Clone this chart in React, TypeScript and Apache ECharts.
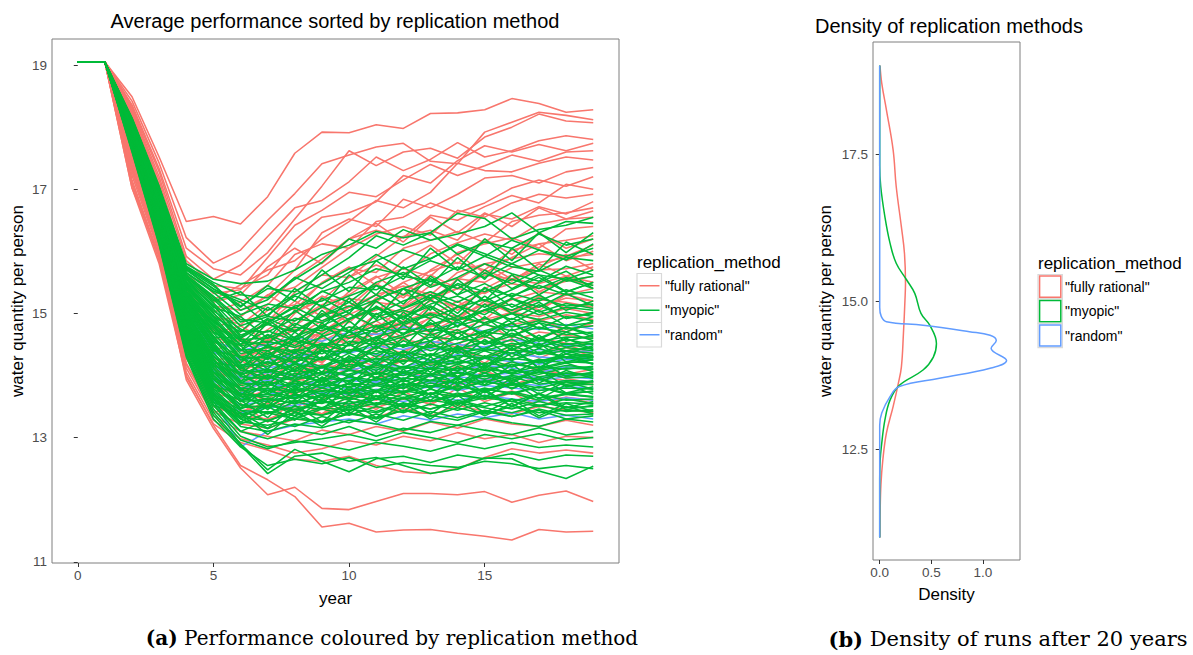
import React, { useEffect, useRef } from 'react';
import * as echarts from 'echarts';

const YEARS = [0, 1, 2, 3, 4, 5, 6, 7, 8, 9, 10, 11, 12, 13, 14, 15, 16, 17, 18, 19];
const METHODS = ['"fully rational"', '"myopic"', '"random"'];
const LEGEND_TITLE = 'replication_method';
const LEFT_TITLE = 'Average performance sorted by replication method';
const RIGHT_TITLE = 'Density of replication methods';
const Y_NAME = 'water quantity per person';
const LEFT_X_NAME = 'year';
const RIGHT_X_NAME = 'Density';
const CAPTION_A = ['(a)', 'Performance coloured by replication method'];
const CAPTION_B = ['(b)', 'Density of runs after 20 years'];

const LEFT_X_TICKS = [0, 5, 10, 15];
const LEFT_Y_TICKS = [11, 13, 15, 17, 19];
const RIGHT_X_TICKS = [0, 0.5, 1];
const RIGHT_Y_TICKS = [12.5, 15, 17.5];

const RATIONAL_RUNS: number[][] = [
  [19.05,19.05,18.49,17.52,16.48,16.56,16.44,16.88,17.58,17.92,17.91,18.04,17.98,18.22,18.23,18.28,18.46,18.38,18.24,18.28],
  [19.05,19.05,18.42,17.42,16.22,15.81,16.02,16.50,16.93,17.41,17.55,17.68,17.74,17.45,17.41,17.92,18.08,18.24,18.19,18.12],
  [19.05,19.05,18.36,17.33,16.05,15.72,15.62,15.98,16.52,17.05,17.62,17.38,17.60,17.66,17.50,17.84,18.00,18.21,18.10,18.07],
  [19.05,19.05,18.33,17.28,15.92,15.55,15.78,16.24,16.70,16.82,17.12,17.52,17.30,17.48,17.75,17.52,17.62,17.78,17.86,17.80],
  [19.05,19.05,18.30,17.20,15.85,15.45,15.40,15.62,16.18,16.55,16.62,16.80,17.22,17.10,17.46,17.70,17.60,17.72,17.62,17.74],
  [19.05,19.05,18.27,17.14,15.74,15.32,15.38,15.90,16.42,16.66,16.95,16.88,17.15,17.40,17.22,17.38,17.55,17.45,17.60,17.62],
  [19.05,19.05,18.24,17.08,15.66,15.22,15.46,15.70,15.85,16.20,16.48,16.82,16.70,16.95,17.42,17.30,17.28,17.42,17.52,17.47],
  [19.05,19.05,18.22,17.02,15.55,15.12,15.05,15.28,15.70,16.30,16.52,16.40,16.84,16.70,16.92,17.18,17.22,17.10,17.28,17.35],
  [19.05,19.05,18.18,16.96,15.48,15.02,15.18,15.45,15.95,16.12,16.05,16.48,16.55,16.78,16.62,16.78,17.02,17.15,17.05,17.20],
  [19.05,19.05,18.15,16.92,15.38,14.96,14.82,15.14,15.58,15.88,16.20,16.34,16.22,16.58,16.50,16.72,16.90,16.78,17.08,17.00],
  [19.05,19.05,18.10,16.86,15.32,14.88,14.95,15.30,15.42,15.74,16.05,16.28,16.40,16.26,16.66,16.55,16.78,16.92,16.86,16.92],
  [19.05,19.05,18.06,16.82,15.26,14.80,14.62,14.86,15.34,15.62,15.58,15.92,16.24,16.34,16.18,16.60,16.52,16.72,16.60,16.80],
  [19.05,19.05,18.02,16.76,15.20,14.72,14.70,15.05,15.14,15.48,15.72,15.66,16.05,16.18,16.32,16.14,16.48,16.58,16.62,16.70],
  [19.05,19.05,17.98,16.70,15.12,14.62,14.48,14.74,15.02,15.22,15.58,15.78,15.62,15.96,16.14,16.28,16.18,16.44,16.52,16.55],
  [19.05,19.05,17.92,16.66,15.06,14.52,14.56,14.50,14.88,15.14,15.30,15.58,15.72,15.60,15.98,16.12,16.22,16.05,16.36,16.40],
  [19.05,19.05,17.88,16.62,15.02,14.42,14.32,14.58,14.72,14.98,15.24,15.18,15.50,15.68,15.82,15.70,16.02,16.12,16.18,16.25],
  [19.05,19.05,17.84,16.58,14.96,14.35,14.40,14.32,14.62,14.88,15.10,15.30,15.44,15.30,15.66,15.80,15.88,15.96,15.92,16.10],
  [19.05,19.05,17.80,16.54,14.92,14.28,14.12,14.30,14.52,14.70,14.98,15.18,15.12,15.45,15.56,15.50,15.74,15.82,15.90,15.95],
  [19.05,19.05,17.76,16.50,14.86,14.20,14.22,14.48,14.40,14.72,14.90,15.05,15.30,15.22,15.40,15.62,15.55,15.70,15.72,15.80],
  [19.05,19.05,17.72,16.46,14.80,14.12,14.02,14.18,14.42,14.55,14.78,14.70,14.98,15.20,15.12,15.35,15.48,15.40,15.52,15.60],
  [19.05,19.05,17.68,16.42,14.76,14.05,13.95,14.20,14.12,14.40,14.62,14.82,14.75,14.92,15.10,15.02,15.22,15.35,15.30,15.40],
  [19.05,19.05,17.64,16.38,14.70,13.98,14.10,13.92,14.25,14.48,14.40,14.62,14.85,14.78,14.95,15.15,15.05,15.10,15.25,15.20],
  [19.05,19.05,17.60,16.34,14.65,13.92,13.85,14.05,14.30,14.22,14.50,14.68,14.60,14.80,14.72,14.90,15.02,14.95,15.08,15.00],
  [19.05,19.05,17.56,16.30,14.60,13.86,13.75,13.90,14.02,14.28,14.20,14.45,14.58,14.50,14.70,14.62,14.82,14.90,14.75,14.80],
  [19.05,19.05,17.50,16.25,14.55,13.80,13.70,13.62,13.90,14.05,14.28,14.15,14.40,14.55,14.45,14.62,14.55,14.70,14.65,14.60],
  [19.05,19.05,17.45,16.20,14.48,13.72,13.60,13.78,13.70,13.95,14.10,14.02,14.25,14.18,14.40,14.30,14.42,14.35,14.50,14.35],
  [19.05,19.05,17.40,16.15,14.42,13.65,13.52,13.48,13.72,13.80,13.68,13.95,14.05,13.98,14.15,14.08,14.22,14.10,14.02,14.10],
  [19.05,19.05,17.35,16.10,14.35,13.58,13.42,13.55,13.40,13.62,13.75,13.60,13.82,13.90,13.78,13.95,13.85,13.98,13.92,13.85],
  [19.05,19.05,17.30,16.05,14.28,13.50,13.35,13.30,13.45,13.38,13.55,13.48,13.62,13.55,13.70,13.62,13.75,13.58,13.65,13.60],
  [19.05,19.05,17.22,15.98,14.20,13.42,13.22,13.15,13.30,13.25,13.40,13.32,13.48,13.35,13.52,13.42,13.38,13.50,13.45,13.40],
  [19.05,19.05,17.15,15.92,14.12,13.35,13.10,13.02,12.95,13.12,13.05,13.18,13.10,13.25,13.15,13.30,13.22,13.18,13.28,13.20],
  [19.05,19.05,17.08,15.85,14.05,13.28,12.98,12.88,12.75,12.82,12.95,12.88,13.02,12.95,13.08,12.98,13.05,12.92,13.02,13.00],
  [19.05,19.05,17.02,15.80,13.98,13.22,12.92,12.80,12.65,12.62,12.70,12.55,12.45,12.42,12.50,12.68,12.82,12.75,12.80,12.75],
  [19.05,19.05,17.02,15.95,13.93,13.15,12.51,12.08,12.20,11.86,11.84,11.97,12.10,12.10,12.08,12.13,11.96,12.07,12.14,11.97],
  [19.05,19.05,17.10,15.90,14.00,13.20,12.55,12.32,12.05,11.56,11.62,11.48,11.51,11.52,11.46,11.41,11.35,11.52,11.48,11.49],
  [19.05,19.05,17.70,16.48,14.90,14.25,14.30,14.55,14.75,14.62,14.90,15.10,15.02,15.25,15.40,15.32,15.55,15.48,15.60,15.50],
  [19.05,19.05,17.62,16.40,14.72,14.10,13.95,14.12,14.38,14.60,14.52,14.70,14.88,15.02,14.95,15.15,15.05,15.22,15.18,15.10],
  [19.05,19.05,17.58,16.32,14.62,13.95,14.05,14.28,14.20,14.45,14.62,14.55,14.78,14.70,14.92,14.85,15.02,14.88,14.98,14.90],
  [19.05,19.05,17.52,16.28,14.50,13.82,13.68,13.85,14.02,14.18,14.10,14.32,14.25,14.45,14.38,14.55,14.48,14.60,14.52,14.50],
  [19.05,19.05,18.00,16.80,15.25,14.75,14.95,15.30,15.05,15.50,15.75,15.45,15.85,16.10,15.80,16.20,15.95,16.30,16.05,16.20],
  [19.05,19.05,17.90,16.68,15.10,14.55,14.40,14.85,15.20,14.95,15.35,15.60,15.30,15.70,15.95,15.65,15.90,16.12,15.85,16.00],
  [19.05,19.05,17.82,16.60,14.98,14.38,14.62,14.35,14.80,15.10,14.85,15.25,15.50,15.20,15.55,15.80,15.55,15.75,15.95,15.70],
  [19.05,19.05,17.75,16.52,14.85,14.18,14.05,14.45,14.30,14.70,15.00,14.75,15.10,15.35,15.05,15.40,15.62,15.35,15.55,15.45],
  [19.05,19.05,17.66,16.44,14.72,14.02,14.25,13.98,14.40,14.20,14.60,14.88,14.60,14.95,15.20,14.90,15.25,15.05,15.30,15.20],
  [19.05,19.05,17.58,16.35,14.58,13.85,13.70,14.10,13.92,14.30,14.15,14.50,14.35,14.70,14.48,14.85,14.60,14.92,14.70,14.85],
  [19.05,19.05,17.48,16.22,14.42,13.68,13.85,13.55,13.98,13.80,14.15,13.95,14.30,14.10,14.42,14.20,14.50,14.28,14.45,14.30],
  [19.05,19.05,17.38,16.12,14.30,13.52,13.35,13.62,13.45,13.80,13.60,13.90,13.72,14.02,13.82,14.08,13.90,14.15,13.95,13.88],
  [19.05,19.05,17.28,16.02,14.18,13.40,13.55,13.25,13.60,13.38,13.68,13.45,13.75,13.52,13.80,13.58,13.72,13.50,13.65,13.55],
  [19.05,19.05,18.20,17.05,15.58,15.18,15.30,15.75,16.05,15.80,16.20,16.45,16.15,16.55,16.30,16.62,16.40,16.70,16.52,16.65],
  [19.05,19.05,17.95,16.75,15.18,14.68,14.80,14.55,15.00,15.28,15.10,15.48,15.25,15.62,15.40,15.70,15.52,15.80,15.60,15.75],
  [19.05,19.05,17.70,16.50,14.80,14.12,14.30,14.62,14.45,14.82,14.62,15.00,14.78,15.12,14.90,15.20,15.00,15.28,15.08,15.15],
];

const MYOPIC_RUNS: number[][] = [
  [19.05,19.05,18.15,17.05,15.80,15.55,15.48,15.52,15.70,15.95,16.10,16.32,16.22,16.30,16.61,16.53,16.20,16.35,16.42,16.55],
  [19.05,19.05,18.13,17.02,15.76,15.50,15.30,15.25,15.55,15.82,16.20,16.05,16.35,16.18,16.28,16.40,16.62,16.30,16.48,16.45],
  [19.05,19.05,18.12,17.00,15.72,15.44,15.12,15.40,15.35,15.62,15.90,16.25,16.10,16.30,15.95,16.15,16.05,16.28,16.10,16.20],
  [19.05,19.05,18.11,16.97,15.70,15.39,15.22,15.05,15.30,15.48,15.72,15.85,16.02,15.88,16.12,15.96,15.80,16.02,15.92,16.05],
  [19.05,19.05,18.09,16.96,15.65,15.34,14.98,15.15,15.08,15.35,15.50,15.72,15.62,15.85,15.70,15.92,15.75,15.68,15.90,15.85],
  [19.05,19.05,18.08,16.93,15.62,15.28,14.90,14.85,15.12,15.20,15.42,15.38,15.60,15.52,15.75,15.58,15.80,15.62,15.55,15.70],
  [19.05,19.05,18.07,16.91,15.58,15.23,14.80,14.95,14.88,15.10,15.28,15.45,15.30,15.52,15.40,15.65,15.48,15.70,15.52,15.60],
  [19.05,19.05,18.05,16.90,15.56,15.17,14.72,14.70,14.92,14.85,15.05,15.22,15.40,15.25,15.48,15.35,15.55,15.40,15.58,15.45],
  [19.05,19.05,18.05,16.86,15.50,15.12,14.65,14.82,14.70,14.95,15.12,14.98,15.20,15.35,15.18,15.40,15.28,15.45,15.30,15.35],
  [19.05,19.05,18.04,16.85,15.49,15.07,14.58,14.60,14.78,14.72,14.90,15.08,14.95,15.15,15.28,15.10,15.32,15.20,15.38,15.25],
  [19.05,19.05,18.02,16.83,15.44,15.01,14.55,14.48,14.62,14.80,14.70,14.88,15.05,14.92,15.10,15.22,15.05,15.25,15.12,15.15],
  [19.05,19.05,18.00,16.80,15.42,14.96,14.48,14.55,14.45,14.62,14.78,14.70,14.85,15.00,14.88,15.05,15.15,14.98,15.10,15.05],
  [19.05,19.05,18.01,16.77,15.36,14.91,14.42,14.40,14.55,14.48,14.65,14.80,14.68,14.82,14.95,14.85,15.00,14.90,15.02,14.95],
  [19.05,19.05,17.98,16.76,15.35,14.85,14.35,14.45,14.38,14.52,14.48,14.62,14.75,14.65,14.80,14.92,14.78,14.88,14.80,14.85],
  [19.05,19.05,17.97,16.74,15.30,14.80,14.30,14.28,14.42,14.35,14.55,14.50,14.62,14.75,14.68,14.82,14.72,14.85,14.75,14.80],
  [19.05,19.05,17.96,16.70,15.27,14.75,14.25,14.32,14.22,14.40,14.38,14.52,14.48,14.62,14.58,14.70,14.65,14.78,14.66,14.70],
  [19.05,19.05,17.94,16.69,15.22,14.69,14.18,14.15,14.30,14.25,14.42,14.35,14.50,14.45,14.60,14.52,14.68,14.55,14.62,14.60],
  [19.05,19.05,17.93,16.67,15.20,14.64,14.12,14.22,14.10,14.28,14.22,14.40,14.32,14.48,14.42,14.55,14.48,14.60,14.50,14.55],
  [19.05,19.05,17.91,16.64,15.15,14.59,14.08,14.05,14.18,14.12,14.30,14.25,14.38,14.32,14.46,14.40,14.52,14.45,14.58,14.50],
  [19.05,19.05,17.90,16.62,15.13,14.53,14.02,14.10,14.00,14.15,14.10,14.28,14.22,14.35,14.28,14.42,14.36,14.50,14.40,14.45],
  [19.05,19.05,17.89,16.61,15.08,14.48,13.98,13.95,14.08,14.02,14.18,14.12,14.25,14.20,14.32,14.28,14.42,14.35,14.45,14.40],
  [19.05,19.05,17.87,16.57,15.05,14.43,13.92,14.00,13.92,14.06,14.02,14.16,14.10,14.22,14.18,14.30,14.25,14.38,14.30,14.35],
  [19.05,19.05,17.86,16.56,15.01,14.37,13.88,13.85,13.98,13.92,14.08,14.02,14.15,14.10,14.22,14.18,14.28,14.22,14.35,14.30],
  [19.05,19.05,17.85,16.52,14.98,14.32,13.84,13.90,13.82,13.96,13.92,14.05,14.00,14.12,14.08,14.20,14.14,14.26,14.20,14.25],
  [19.05,19.05,17.83,16.51,14.95,14.27,13.80,13.76,13.88,13.84,13.98,13.92,14.06,14.02,14.12,14.08,14.18,14.12,14.22,14.20],
  [19.05,19.05,17.82,16.49,14.90,14.21,13.75,13.80,13.72,13.85,13.82,13.95,13.90,14.02,13.98,14.10,14.05,14.15,14.10,14.15],
  [19.05,19.05,17.81,16.46,14.88,14.16,13.70,13.66,13.78,13.74,13.88,13.84,13.96,13.92,14.04,13.98,14.08,14.02,14.12,14.10],
  [19.05,19.05,17.79,16.45,14.83,14.11,13.66,13.70,13.62,13.76,13.72,13.86,13.80,13.92,13.88,14.00,13.95,14.06,14.00,14.05],
  [19.05,19.05,17.79,16.41,14.81,14.05,13.62,13.58,13.68,13.65,13.78,13.74,13.86,13.82,13.94,13.90,14.00,13.94,14.04,14.00],
  [19.05,19.05,17.77,16.40,14.76,14.00,13.58,13.62,13.55,13.68,13.64,13.76,13.72,13.84,13.78,13.90,13.84,13.94,13.86,13.90],
  [19.05,19.05,17.76,16.37,14.74,13.94,13.52,13.48,13.60,13.55,13.68,13.62,13.75,13.70,13.82,13.76,13.88,13.80,13.90,13.85],
  [19.05,19.05,17.74,16.36,14.70,13.89,13.48,13.52,13.45,13.58,13.54,13.66,13.62,13.72,13.66,13.78,13.72,13.82,13.70,13.75],
  [19.05,19.05,17.73,16.32,14.67,13.84,13.44,13.40,13.50,13.46,13.58,13.52,13.64,13.58,13.68,13.62,13.72,13.60,13.70,13.65],
  [19.05,19.05,17.72,16.31,14.62,13.79,13.38,13.42,13.35,13.48,13.44,13.56,13.50,13.60,13.54,13.64,13.58,13.50,13.62,13.55],
  [19.05,19.05,17.70,16.28,14.60,13.73,13.32,13.28,13.40,13.36,13.46,13.40,13.52,13.46,13.56,13.48,13.40,13.52,13.42,13.45],
  [19.05,19.05,17.69,16.27,14.55,13.68,13.25,13.20,13.30,13.26,13.38,13.32,13.44,13.36,13.28,13.42,13.34,13.44,13.30,13.35],
  [19.05,19.05,17.68,16.24,14.53,13.62,13.18,13.10,13.22,13.16,13.28,13.22,13.12,13.26,13.20,13.32,13.24,13.18,13.30,13.25],
  [19.05,19.05,17.66,16.22,14.48,13.57,13.10,12.98,13.12,13.05,13.18,13.02,13.15,13.08,13.20,13.12,13.05,13.16,13.04,13.10],
  [19.05,19.05,17.66,16.19,14.45,13.52,13.02,12.85,12.92,12.98,13.05,12.95,13.08,13.00,12.92,13.05,12.98,13.06,12.96,13.00],
  [19.05,19.05,17.64,16.17,14.41,13.46,12.96,12.82,12.95,12.88,12.80,12.92,12.86,12.78,12.90,12.82,12.92,12.84,12.88,12.85],
  [19.05,19.05,17.63,16.15,14.37,13.41,12.90,12.48,12.81,12.62,12.45,12.66,12.70,12.60,12.72,12.66,12.74,12.64,12.72,12.70],
  [19.05,19.05,17.62,16.12,14.34,13.36,12.88,12.42,12.70,12.75,12.62,12.68,12.55,12.42,12.49,12.67,12.66,12.46,12.34,12.54],
  [19.05,19.05,17.60,16.10,14.30,13.30,12.85,12.55,12.65,12.58,12.68,12.52,12.60,12.55,12.52,12.62,12.58,12.50,12.55,12.50],
  [19.05,19.05,18.10,16.98,15.60,15.20,15.35,14.95,15.40,15.10,15.62,15.30,15.75,15.45,15.90,15.55,16.05,15.70,16.15,15.95],
  [19.05,19.05,18.06,16.90,15.48,14.95,14.70,15.10,14.80,15.25,15.00,15.45,15.15,15.60,15.30,15.70,15.40,15.62,15.35,15.50],
  [19.05,19.05,18.03,16.84,15.40,14.80,14.40,14.85,14.55,15.05,14.70,15.20,14.90,15.30,15.00,15.42,15.10,15.30,15.05,15.20],
  [19.05,19.05,18.00,16.78,15.30,14.62,14.60,14.25,14.70,14.40,14.88,14.55,15.02,14.70,15.12,14.82,15.00,14.75,14.95,14.88],
  [19.05,19.05,17.97,16.72,15.22,14.50,14.10,14.50,14.20,14.65,14.35,14.80,14.45,14.90,14.60,14.95,14.62,14.85,14.55,14.65],
  [19.05,19.05,17.95,16.68,15.15,14.40,14.30,13.95,14.38,14.05,14.52,14.20,14.62,14.30,14.70,14.40,14.75,14.45,14.60,14.42],
  [19.05,19.05,17.92,16.62,15.05,14.25,13.90,14.30,13.98,14.40,14.10,14.48,14.18,14.55,14.25,14.58,14.30,14.52,14.22,14.30],
  [19.05,19.05,17.90,16.58,14.98,14.15,14.05,13.72,14.15,13.85,14.28,13.95,14.35,14.05,14.42,14.10,14.45,14.12,14.35,14.18],
  [19.05,19.05,17.88,16.54,14.92,14.05,13.68,14.02,13.75,14.15,13.85,14.22,13.92,14.30,13.98,14.32,14.02,14.25,13.98,14.05],
  [19.05,19.05,17.85,16.50,14.85,13.95,13.80,13.50,13.92,13.62,14.02,13.72,14.10,13.80,14.15,13.85,14.18,13.88,14.08,13.95],
  [19.05,19.05,17.83,16.46,14.78,13.86,13.48,13.80,13.55,13.90,13.62,13.98,13.70,14.02,13.75,14.05,13.78,13.98,13.72,13.82],
  [19.05,19.05,17.80,16.42,14.72,13.78,13.60,13.32,13.72,13.45,13.82,13.52,13.88,13.60,13.92,13.65,13.90,13.62,13.85,13.70],
  [19.05,19.05,17.78,16.38,14.65,13.70,13.30,13.58,13.35,13.70,13.42,13.75,13.48,13.80,13.52,13.78,13.50,13.72,13.48,13.58],
  [19.05,19.05,17.75,16.34,14.58,13.62,13.40,13.15,13.52,13.25,13.60,13.32,13.65,13.38,13.68,13.40,13.62,13.35,13.55,13.42],
  [19.05,19.05,18.12,17.00,15.70,15.40,15.10,15.45,15.20,15.70,15.35,15.85,15.55,16.05,15.70,16.20,15.85,16.30,15.98,16.30],
  [19.05,19.05,18.08,16.95,15.55,15.10,14.95,14.60,15.05,14.75,15.25,14.90,15.40,15.05,15.55,15.20,15.62,15.30,15.55,15.40],
  [19.05,19.05,18.04,16.88,15.45,14.88,14.50,14.90,14.60,15.00,14.72,15.12,14.85,15.22,14.95,15.28,15.00,15.18,14.92,15.00],
  [19.05,19.05,17.99,16.80,15.35,14.70,14.48,14.10,14.58,14.25,14.72,14.42,14.82,14.55,14.90,14.62,14.85,14.58,14.78,14.62],
  [19.05,19.05,17.94,16.70,15.20,14.45,14.02,14.40,14.08,14.50,14.20,14.60,14.30,14.68,14.38,14.72,14.40,14.65,14.35,14.48],
  [19.05,19.05,17.89,16.60,15.00,14.20,14.15,13.85,14.22,13.92,14.32,14.02,14.40,14.10,14.48,14.15,14.45,14.12,14.40,14.28],
  [19.05,19.05,17.84,16.52,14.88,14.00,13.58,13.90,13.62,13.98,13.70,14.05,13.78,14.12,13.85,14.15,13.88,14.10,13.82,13.92],
  [19.05,19.05,17.79,16.44,14.75,13.82,13.72,13.45,13.80,13.55,13.88,13.62,13.95,13.68,13.98,13.72,13.95,13.70,13.90,13.78],
  [19.05,19.05,17.74,16.36,14.60,13.65,13.25,13.50,13.28,13.62,13.38,13.68,13.42,13.72,13.48,13.75,13.50,13.70,13.45,13.52],
  [19.05,19.05,17.70,16.28,14.50,13.52,13.38,13.05,13.42,13.18,13.50,13.25,13.55,13.30,13.58,13.35,13.55,13.32,13.50,13.38],
  [19.05,19.05,17.96,16.75,15.28,14.58,14.20,14.65,14.35,14.85,14.50,15.00,14.65,15.10,14.78,15.15,14.85,15.05,14.80,14.95],
  [19.05,19.05,18.14,17.03,15.74,15.47,15.05,15.22,15.58,15.40,15.66,15.95,15.72,15.88,16.10,15.92,16.18,16.02,15.86,16.12],
  [19.05,19.05,18.11,16.99,15.66,15.36,15.18,14.82,15.02,15.36,15.18,15.50,15.66,15.42,15.58,15.80,15.64,15.52,15.76,15.62],
  [19.05,19.05,18.09,16.95,15.60,15.26,14.86,14.98,15.28,15.12,14.90,15.22,15.40,15.56,15.30,15.48,15.26,15.50,15.68,15.40],
  [19.05,19.05,18.06,16.89,15.52,15.14,14.62,14.92,14.72,14.96,15.18,14.94,15.08,15.30,15.12,14.98,15.24,15.10,15.32,15.12],
  [19.05,19.05,18.03,16.86,15.46,15.04,14.75,14.52,14.84,14.66,14.92,15.10,14.82,14.98,14.80,15.06,14.90,15.14,14.92,15.02],
  [19.05,19.05,18.01,16.82,15.40,14.94,14.40,14.66,14.48,14.78,14.60,14.74,14.95,14.70,14.86,14.66,14.92,14.76,14.70,14.88],
  [19.05,19.05,17.99,16.79,15.34,14.86,14.56,14.32,14.60,14.44,14.70,14.52,14.66,14.85,14.58,14.72,14.84,14.60,14.78,14.66],
  [19.05,19.05,17.97,16.75,15.28,14.78,14.28,14.48,14.30,14.52,14.38,14.62,14.46,14.56,14.74,14.50,14.64,14.48,14.70,14.56],
  [19.05,19.05,17.95,16.72,15.24,14.70,14.42,14.18,14.40,14.26,14.50,14.30,14.56,14.40,14.52,14.64,14.42,14.58,14.46,14.52],
  [19.05,19.05,17.93,16.69,15.18,14.62,14.15,14.36,14.20,14.42,14.24,14.46,14.32,14.50,14.36,14.44,14.58,14.36,14.52,14.42],
  [19.05,19.05,17.92,16.66,15.14,14.55,14.30,14.06,14.28,14.14,14.36,14.18,14.40,14.24,14.44,14.30,14.48,14.34,14.40,14.36],
  [19.05,19.05,17.90,16.63,15.10,14.48,14.00,14.22,14.06,14.30,14.14,14.28,14.12,14.34,14.20,14.40,14.24,14.44,14.28,14.32],
  [19.05,19.05,17.88,16.60,15.05,14.42,14.12,13.94,14.18,14.02,14.24,14.08,14.30,14.16,14.26,14.12,14.36,14.20,14.30,14.26],
  [19.05,19.05,17.87,16.58,15.02,14.36,13.88,14.08,13.94,14.14,13.98,14.20,14.04,14.22,14.08,14.28,14.14,14.24,14.30,14.18],
  [19.05,19.05,17.85,16.55,14.98,14.30,14.00,13.82,14.04,13.90,14.10,13.96,14.14,14.02,14.18,14.04,14.22,14.08,14.16,14.12],
  [19.05,19.05,17.84,16.53,14.94,14.25,13.78,13.98,13.84,14.02,13.90,14.06,13.94,14.12,13.98,14.16,14.02,14.10,14.20,14.06],
  [19.05,19.05,17.82,16.50,14.90,14.18,13.90,13.70,13.92,13.80,13.98,13.86,14.04,13.92,14.06,13.94,14.10,13.98,14.04,14.02],
  [19.05,19.05,17.81,16.48,14.86,14.12,13.68,13.86,13.74,13.92,13.80,13.96,13.84,14.00,13.88,14.04,13.92,14.06,13.96,13.98],
  [19.05,19.05,17.79,16.45,14.82,14.06,13.78,13.60,13.82,13.70,13.88,13.76,13.92,13.80,13.96,13.84,13.98,13.86,13.92,13.90],
  [19.05,19.05,17.78,16.43,14.78,14.00,13.58,13.76,13.64,13.80,13.70,13.84,13.74,13.88,13.78,13.92,13.80,13.94,13.84,13.86],
  [19.05,19.05,17.76,16.40,14.74,13.94,13.66,13.50,13.70,13.60,13.76,13.66,13.82,13.70,13.84,13.74,13.86,13.76,13.80,13.78],
  [19.05,19.05,17.75,16.38,14.70,13.88,13.46,13.64,13.54,13.70,13.60,13.74,13.64,13.78,13.68,13.80,13.70,13.82,13.72,13.74],
  [19.05,19.05,17.73,16.35,14.66,13.82,13.54,13.38,13.58,13.48,13.64,13.54,13.70,13.58,13.72,13.62,13.74,13.64,13.70,13.66],
  [19.05,19.05,17.72,16.32,14.62,13.76,13.34,13.52,13.42,13.58,13.48,13.62,13.52,13.66,13.56,13.68,13.58,13.70,13.60,13.62],
  [19.05,19.05,17.70,16.30,14.58,13.70,13.44,13.26,13.46,13.36,13.52,13.42,13.56,13.46,13.60,13.50,13.62,13.52,13.56,13.54],
  [19.05,19.05,17.69,16.27,14.54,13.64,13.22,13.40,13.30,13.46,13.36,13.50,13.40,13.54,13.44,13.56,13.46,13.58,13.48,13.50],
  [19.05,19.05,17.67,16.24,14.50,13.58,13.30,13.14,13.34,13.24,13.40,13.30,13.44,13.34,13.48,13.38,13.50,13.40,13.44,13.42],
  [19.05,19.05,17.66,16.21,14.46,13.52,13.10,13.28,13.18,13.34,13.24,13.38,13.28,13.42,13.32,13.44,13.34,13.46,13.36,13.38],
  [19.05,19.05,18.02,16.84,15.45,15.00,14.60,14.85,15.10,14.88,15.05,15.30,15.08,15.24,15.46,15.20,15.38,15.58,15.34,15.50],
  [19.05,19.05,17.98,16.78,15.32,14.82,14.50,14.72,14.56,14.80,15.00,14.78,14.94,15.12,14.90,15.06,15.24,15.02,15.16,15.08],
];

const RANDOM_RUNS: number[][] = [
  [19.05,19.05,17.95,16.80,15.20,14.55,14.40,14.50,14.62,14.55,14.70,14.66,14.78,14.72,14.85,14.70,14.80,14.74,14.82,14.75],
  [19.05,19.05,17.92,16.75,15.10,14.45,14.25,14.32,14.28,14.40,14.36,14.48,14.42,14.55,14.50,14.46,14.58,14.52,14.48,14.50],
  [19.05,19.05,17.90,16.72,15.05,14.38,14.15,14.22,14.35,14.28,14.42,14.34,14.30,14.44,14.38,14.45,14.36,14.42,14.38,14.40],
  [19.05,19.05,17.88,16.70,15.00,14.30,14.05,14.12,14.20,14.15,14.26,14.22,14.32,14.25,14.34,14.28,14.36,14.30,14.26,14.30],
  [19.05,19.05,17.86,16.66,14.95,14.22,13.96,14.05,14.00,14.12,14.08,14.18,14.14,14.24,14.20,14.28,14.22,14.18,14.26,14.25],
  [19.05,19.05,17.84,16.62,14.90,14.15,13.88,13.92,13.98,14.04,14.00,14.10,14.06,14.14,14.08,14.16,14.12,14.05,14.14,14.10],
  [19.05,19.05,17.82,16.58,14.85,14.08,13.80,13.86,13.82,13.92,13.96,13.90,14.02,13.98,14.06,14.00,14.04,13.96,14.02,14.00],
  [19.05,19.05,17.80,16.55,14.80,14.00,13.72,13.78,13.86,13.84,13.92,13.88,13.96,13.90,13.98,13.94,14.00,13.92,13.98,13.95],
  [19.05,19.05,17.78,16.52,14.75,13.92,13.62,13.70,13.76,13.82,13.78,13.86,13.82,13.90,13.86,13.92,13.88,13.84,13.92,13.90],
  [19.05,19.05,17.76,16.48,14.70,13.85,13.52,13.60,13.66,13.72,13.70,13.78,13.74,13.82,13.76,13.84,13.80,13.76,13.82,13.80],
  [19.05,19.05,17.74,16.44,14.65,13.75,13.40,13.48,13.52,13.58,13.54,13.62,13.58,13.66,13.60,13.68,13.62,13.58,13.64,13.60],
  [19.05,19.05,17.70,16.40,14.58,13.62,12.85,13.10,13.20,13.25,13.30,13.22,13.35,13.28,13.38,13.32,13.40,13.30,13.36,13.30],
];

// [density, water quantity] pairs of the final-year distribution
const RATIONAL_DENSITY: number[][] = [
  [0.003, 11.0], [0.005, 11.5], [0.012, 11.9], [0.03, 12.31], [0.065, 12.77], [0.13, 13.22], [0.18, 13.61],
  [0.21, 13.89], [0.23, 14.46], [0.245, 15.03], [0.25, 15.31], [0.24, 15.82], [0.21, 16.27], [0.16, 16.95],
  [0.13, 17.57], [0.065, 18.25], [0.02, 18.7], [0.003, 19.0],
];
const MYOPIC_DENSITY: number[][] = [
  [0, 11.0], [0, 12.0], [0.004, 12.3], [0.016, 12.54], [0.05, 12.99], [0.1, 13.33], [0.19, 13.58], [0.42, 13.84],
  [0.52, 14.06], [0.55, 14.29], [0.485, 14.6], [0.4, 14.8], [0.34, 15.14], [0.26, 15.37], [0.16, 15.65],
  [0.1, 15.99], [0.05, 16.44], [0.01, 16.95], [0, 17.3], [0, 19.0],
];
const RANDOM_DENSITY: number[][] = [
  [0, 11.0], [0, 12.9], [0.02, 13.11], [0.1, 13.39], [0.19, 13.56], [0.58, 13.7], [1.07, 13.87], [1.23, 14.0],
  [1.08, 14.21], [1.13, 14.34], [1.07, 14.43], [0.87, 14.49], [0.42, 14.6], [0.065, 14.66], [0.015, 14.75],
  [0, 14.9], [0, 19.0],
];

const COLORS = ['#F8766D', '#00BA38', '#619CFF'];
const FONT = '"Liberation Sans", Arial, Helvetica, sans-serif';
const SERIF = '"DejaVu Serif", "Liberation Serif", serif';

function buildOption() {
  const series: any[] = [];
  const groups: [number[][], number][] = [[RATIONAL_RUNS, 0], [RANDOM_RUNS, 2], [MYOPIC_RUNS, 1]];
  groups.forEach(([runs, k]) => {
    runs.forEach((run) => {
      series.push({
        type: 'line',
        xAxisIndex: 0,
        yAxisIndex: 0,
        data: run.map((v, i) => [YEARS[i], v]),
        symbol: 'none',
        showSymbol: false,
        silent: true,
        lineStyle: { color: COLORS[k], width: 1.55 },
        itemStyle: { color: COLORS[k] },
      });
    });
  });
  const dens: [number[][], number][] = [[RATIONAL_DENSITY, 0], [MYOPIC_DENSITY, 1], [RANDOM_DENSITY, 2]];
  dens.forEach(([d, k]) => {
    series.push({
      type: 'line',
      xAxisIndex: 1,
      yAxisIndex: 1,
      data: d,
      symbol: 'none',
      showSymbol: false,
      silent: true,
      smooth: 0.4,
      lineStyle: { color: COLORS[k], width: 1.5 },
      itemStyle: { color: COLORS[k] },
    });
  });

  const tickStyle = { color: '#333', width: 1 };
  const labelStyle = { color: '#4d4d4d', fontSize: 13.5, fontFamily: FONT };
  const nameStyle = { color: '#000', fontSize: 17, fontFamily: FONT };

  const graphics: any[] = [
    { type: 'text', x: 335, y: 21, style: { text: LEFT_TITLE, fontSize: 20, fontFamily: FONT, fill: '#000', align: 'center', verticalAlign: 'middle' } },
    { type: 'text', x: 815, y: 26, style: { text: RIGHT_TITLE, fontSize: 20, fontFamily: FONT, fill: '#000', align: 'left', verticalAlign: 'middle' } },
    {
      type: 'text', x: 392, y: 638,
      style: {
        text: `{b|${CAPTION_A[0]}} ${CAPTION_A[1]}`, fontSize: 20, fontFamily: SERIF, fill: '#000',
        align: 'center', verticalAlign: 'middle', rich: { b: { fontWeight: 'bold', fontSize: 20, fontFamily: SERIF } },
      },
    },
    {
      type: 'text', x: 1008, y: 639,
      style: {
        text: `{b|${CAPTION_B[0]}} ${CAPTION_B[1]}`, fontSize: 21, fontFamily: SERIF, fill: '#000',
        align: 'center', verticalAlign: 'middle', rich: { b: { fontWeight: 'bold', fontSize: 21, fontFamily: SERIF } },
      },
    },
    { type: 'text', x: 637, y: 262, style: { text: LEGEND_TITLE, fontSize: 17, fontFamily: FONT, fill: '#000', verticalAlign: 'middle' } },
    { type: 'text', x: 1038, y: 263, style: { text: LEGEND_TITLE, fontSize: 17, fontFamily: FONT, fill: '#000', verticalAlign: 'middle' } },
  ];
  METHODS.forEach((m, i) => {
    const top = 273.5 + 24.5 * i;
    const cy = top + 12.25;
    graphics.push(
      { type: 'rect', shape: { x: 637, y: top, width: 24.5, height: 24.5 }, style: { fill: '#fff', stroke: '#d9d9d9', lineWidth: 1.2 } },
      { type: 'line', shape: { x1: 639.5, y1: cy, x2: 659.5, y2: cy }, style: { stroke: COLORS[i], lineWidth: 1.5 } },
      { type: 'text', x: 665, y: cy, style: { text: m, fontSize: 14, fontFamily: FONT, fill: '#000', verticalAlign: 'middle' } },
    );
    const top2 = 274.5 + 24.4 * i;
    const cy2 = top2 + 12.2;
    graphics.push(
      { type: 'rect', shape: { x: 1038, y: top2, width: 24.4, height: 24.4 }, style: { fill: '#fff', stroke: '#d9d9d9', lineWidth: 1.2 } },
      { type: 'rect', shape: { x: 1039.6, y: top2 + 1.6, width: 21.2, height: 21.2 }, style: { fill: 'none', stroke: COLORS[i], lineWidth: 1.5 } },
      { type: 'text', x: 1065, y: cy2, style: { text: m, fontSize: 14, fontFamily: FONT, fill: '#000', verticalAlign: 'middle' } },
    );
  });

  return {
    animation: false,
    backgroundColor: '#fff',
    textStyle: { fontFamily: FONT },
    grid: [
      { left: 52, top: 39, width: 567, height: 524, show: true, borderColor: '#7f7f7f', borderWidth: 1, backgroundColor: 'transparent' },
      { left: 873, top: 42, width: 147, height: 518, show: true, borderColor: '#7f7f7f', borderWidth: 1, backgroundColor: 'transparent' },
    ],
    xAxis: [
      {
        type: 'value', gridIndex: 0, min: -0.95, max: 19.95,
        name: LEFT_X_NAME, nameLocation: 'middle', nameGap: 27, nameTextStyle: nameStyle,
        axisLine: { show: false }, splitLine: { show: false },
        axisTick: { show: true, length: 4, lineStyle: tickStyle, customValues: LEFT_X_TICKS },
        axisLabel: { ...labelStyle, margin: 5, customValues: LEFT_X_TICKS, formatter: (v: number) => String(v) },
      },
      {
        type: 'value', gridIndex: 1, min: -0.065, max: 1.36,
        name: RIGHT_X_NAME, nameLocation: 'middle', nameGap: 26, nameTextStyle: nameStyle,
        axisLine: { show: false }, splitLine: { show: false },
        axisTick: { show: true, length: 4, lineStyle: tickStyle, customValues: RIGHT_X_TICKS },
        axisLabel: { ...labelStyle, margin: 5, customValues: RIGHT_X_TICKS, formatter: (v: number) => v.toFixed(1) },
      },
    ],
    yAxis: [
      {
        type: 'value', gridIndex: 0, min: 10.98, max: 19.42,
        name: Y_NAME, nameLocation: 'middle', nameGap: 26, nameTextStyle: nameStyle,
        axisLine: { show: false }, splitLine: { show: false },
        axisTick: { show: true, length: 4, lineStyle: tickStyle, customValues: LEFT_Y_TICKS },
        axisLabel: { ...labelStyle, margin: 5, customValues: LEFT_Y_TICKS, formatter: (v: number) => String(v) },
      },
      {
        type: 'value', gridIndex: 1, min: 10.62, max: 19.4,
        name: Y_NAME, nameLocation: 'middle', nameGap: 39, nameTextStyle: nameStyle,
        axisLine: { show: false }, splitLine: { show: false },
        axisTick: { show: true, length: 4, lineStyle: tickStyle, customValues: RIGHT_Y_TICKS },
        axisLabel: { ...labelStyle, margin: 5, customValues: RIGHT_Y_TICKS, formatter: (v: number) => v.toFixed(1) },
      },
    ],
    series,
    graphic: { elements: graphics },
  };
}

export default function App() {
  const ref = useRef<HTMLDivElement>(null);
  useEffect(() => {
    if (!ref.current) return;
    const chart = echarts.init(ref.current, null, { renderer: 'svg' });
    chart.setOption(buildOption() as any);
    return () => chart.dispose();
  }, []);
  return (
    <div
      ref={ref}
      style={{ position: 'absolute', left: 0, top: 0, width: 1193, height: 655, background: '#fff' }}
    />
  );
}
